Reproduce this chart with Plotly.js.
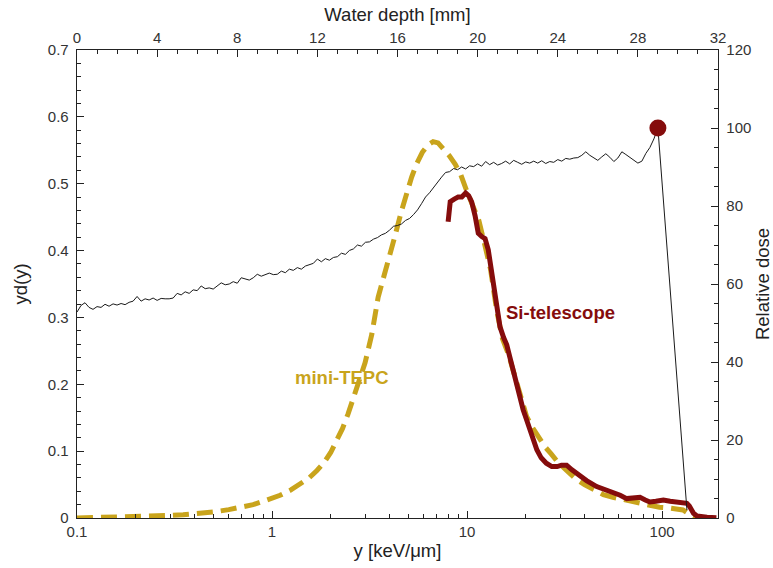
<!DOCTYPE html>
<html>
<head>
<meta charset="utf-8">
<script src="https://cdn.plot.ly/plotly-3.0.1.min.js"></script>
<style>html,body{margin:0;padding:0;background:#fff;}#chart{width:773px;height:568px;}</style>
</head>
<body>
<div id="chart"></div>
<script>
// mini-TEPC: lineal energy y [keV/um] vs y·d(y)
const tepcY = [0.1,0.13,0.17,0.2,0.25,0.3,0.35,0.4,0.5,0.6,0.7,0.8,0.9,1.0,1.1,1.25,1.4,1.55,1.7,1.85,2.0,2.15,2.3,2.45,2.6,2.8,3.0,3.25,3.5,3.75,4.0,4.3,4.6,4.9,5.2,5.5,5.9,6.3,6.7,7.1,7.6,8.1,8.7,9.3,10.0,10.7,11.5,12.3,13.2,14.2,15.2,16.3,17.5,18.8,20.2,21.7,23.3,25,27,29.5,32.5,36,40,45,50,56,63,70,78,87,97,108,118,128,136,143,150];
const tepcYd = [0.000,0.0005,0.001,0.0015,0.0025,0.0038,0.005,0.0062,0.009,0.0125,0.016,0.020,0.025,0.029,0.034,0.042,0.051,0.060,0.071,0.083,0.098,0.116,0.134,0.155,0.176,0.204,0.232,0.275,0.330,0.362,0.390,0.425,0.458,0.486,0.510,0.529,0.547,0.558,0.563,0.561,0.552,0.542,0.529,0.513,0.488,0.466,0.445,0.410,0.372,0.310,0.268,0.245,0.215,0.183,0.152,0.135,0.120,0.107,0.096,0.082,0.071,0.059,0.050,0.041,0.035,0.031,0.028,0.025,0.021,0.018,0.016,0.015,0.014,0.012,0.007,0.002,0.000];

// Si-telescope
const siY = [8.0,8.1,8.2,8.6,9.0,9.4,9.84,10.2,10.56,11.0,11.42,11.9,12.37,12.85,13.64,14.2,14.76,15.4,15.98,16.6,17.27,18.0,18.7,19.4,20.2,21.5,22.8,24.0,25.5,27.2,29.0,30.5,32.4,34.5,37.9,41.0,46.2,51,56.2,61,65.9,71,77.1,82,86.7,93,101.6,110,117,123.6,130,134,138,145,151,157,170,190];
const siYd = [0.443,0.458,0.473,0.477,0.480,0.480,0.486,0.482,0.473,0.452,0.426,0.421,0.418,0.401,0.351,0.318,0.286,0.270,0.259,0.240,0.221,0.198,0.176,0.162,0.147,0.124,0.102,0.090,0.082,0.077,0.077,0.079,0.079,0.072,0.062,0.056,0.047,0.043,0.039,0.034,0.029,0.030,0.031,0.027,0.024,0.025,0.027,0.025,0.024,0.024,0.023,0.022,0.018,0.007,0.003,0.002,0.001,0.0005];

// Depth-dose curve: water depth [mm] vs relative dose
const depth = [0.0,0.2,0.4,0.6,0.8,1.0,1.2,1.4,1.6,1.8,2.0,2.2,2.4,2.6,2.8,3.0,3.2,3.4,3.6,3.8,4.0,4.2,4.4,4.6,4.8,5.0,5.2,5.4,5.6,5.8,6.0,6.2,6.4,6.6,6.8,7.0,7.2,7.4,7.6,7.8,8.0,8.2,8.4,8.6,8.8,9.0,9.2,9.4,9.6,9.8,10.0,10.2,10.4,10.6,10.8,11.0,11.2,11.4,11.6,11.8,12.0,12.2,12.4,12.6,12.8,13.0,13.2,13.4,13.6,13.8,14.0,14.2,14.4,14.6,14.8,15.0,15.2,15.4,15.6,15.8,16.0,16.2,16.4,16.6,16.8,17.0,17.2,17.4,17.6,17.8,18.0,18.2,18.4,18.6,18.8,19.0,19.2,19.4,19.6,19.8,20.0,20.2,20.4,20.6,20.8,21.0,21.2,21.4,21.6,21.8,22.0,22.2,22.4,22.6,22.8,23.0,23.2,23.4,23.6,23.8,24.0,24.2,24.4,24.6,24.8,25.0,25.2,25.4,25.6,25.8,26.0,26.2,26.4,26.6,26.8,27.0,27.2,27.4,27.6,27.8,28.0,28.2,28.4,28.6,28.8,29.0,30.45];
const dose = [52.8,54.5,55.2,54.0,53.5,54.2,54.0,54.8,54.3,54.9,54.6,55.0,54.7,55.3,55.6,56.8,55.6,56.2,55.9,56.4,55.8,56.3,56.2,56.2,56.4,57.6,57.2,58.0,57.6,58.5,58.3,59.5,58.8,59.0,58.7,59.6,60.3,59.8,60.0,60.6,60.2,61.6,61.2,61.0,61.6,62.5,62.0,62.3,62.8,62.4,62.5,63.3,62.9,63.8,63.5,64.2,63.8,64.6,64.9,65.3,66.4,65.7,66.5,66.1,66.8,67.0,67.9,67.6,68.6,69.0,70.0,69.7,70.7,70.8,71.5,71.9,72.6,73.0,73.8,74.8,75.0,75.4,76.3,76.8,77.8,79.0,80.6,82.3,83.4,84.8,86.2,87.4,88.6,88.8,89.6,89.3,90.0,89.5,90.3,90.1,90.8,90.2,91.4,90.6,91.2,90.5,90.9,91.5,90.8,91.7,91.2,90.7,91.3,91.0,91.5,91.0,91.6,90.9,91.4,91.2,91.9,91.5,92.2,92.0,92.3,92.4,93.0,93.9,93.0,92.4,91.7,92.6,93.4,92.5,91.4,92.3,93.9,93.2,92.4,91.8,91.0,91.5,93.5,95.0,97.2,100.0,2.0];

// Peak marker
const peakDepth = [29.0];
const peakDose = [100.0];

// Tick labels
const xTickVals = [0.1,1,10,100];
const xTickText = ['0.1','1','10','100'];
const xMinorVals = [0.2,0.3,0.4,0.5,0.6,0.7,0.8,0.9,2,3,4,5,6,7,8,9,20,30,40,50,60,70,80,90];

const GOLD = '#C9A41C';
const RED = '#850C0C';
const FONT = 'Liberation Sans, Arial, Helvetica, sans-serif';

const traces = [
  {x: depth, y: dose, xaxis:'x2', yaxis:'y2', mode:'lines', line:{color:'#1a1a1a', width:1}, hoverinfo:'skip'},
  {x: tepcY, y: tepcYd, xaxis:'x', yaxis:'y', mode:'lines', line:{color:GOLD, width:5, dash:'16px,8px'}},
  {x: siY, y: siYd, xaxis:'x', yaxis:'y', mode:'lines', line:{color:RED, width:5}},
  {x: peakDepth, y: peakDose, xaxis:'x2', yaxis:'y2', mode:'markers', marker:{color:RED, size:17}}
];

const tickCommon = {ticks:'inside', tickcolor:'#222', tickwidth:1, ticklen:7, showline:true, linecolor:'#222', linewidth:1.3, showgrid:false, zeroline:false, tickfont:{size:15, color:'#333'}};
const minorCommon = {ticks:'inside', ticklen:4, tickcolor:'#222', tickwidth:1, showgrid:false};
const TITLEFONT = {size:18.5, color:'#222'};

const layout = {
  width:773, height:568,
  margin:{l:77, r:55, t:50, b:50, pad:0},
  paper_bgcolor:'#fff', plot_bgcolor:'#fff',
  showlegend:false,
  font:{family:FONT, size:15, color:'#333'},
  xaxis: Object.assign({}, tickCommon, {
    type:'log', range:[-1, Math.log10(193.6)],
    tickmode:'array', tickvals:xTickVals, ticktext:xTickText,
    minor: Object.assign({}, minorCommon, {tickmode:'array', tickvals:xMinorVals}),
    title:{text:'y [keV/μm]', font:TITLEFONT, standoff:4}
  }),
  xaxis2: Object.assign({}, tickCommon, {
    overlaying:'x', side:'top', range:[0,32], tick0:0, dtick:4,
    minor: Object.assign({}, minorCommon, {dtick:1}),
    title:{text:'Water depth [mm]', font:TITLEFONT, standoff:2}
  }),
  yaxis: Object.assign({}, tickCommon, {
    range:[0,0.7], tick0:0, dtick:0.1, ticklabelstandoff:4,
    minor: Object.assign({}, minorCommon, {dtick:0.02}),
    title:{text:'yd(y)', font:TITLEFONT, standoff:15}
  }),
  yaxis2: Object.assign({}, tickCommon, {
    overlaying:'y', side:'right', range:[0,120], tick0:0, dtick:20, ticklabelstandoff:4,
    minor: Object.assign({}, minorCommon, {dtick:5}),
    title:{text:'Relative dose', font:TITLEFONT, standoff:5}
  }),
  annotations:[
    {xref:'paper', yref:'paper', x:0.413, y:0.301, xanchor:'center', yanchor:'middle', text:'<b>mini-TEPC</b>', showarrow:false, font:{size:18.5, color:GOLD, family:FONT}},
    {xref:'paper', yref:'paper', x:0.755, y:0.440, xanchor:'center', yanchor:'middle', text:'<b>Si-telescope</b>', showarrow:false, font:{size:18.5, color:RED, family:FONT}}
  ]
};

Plotly.newPlot('chart', traces, layout, {displayModeBar:false, staticPlot:true});
</script>
</body>
</html>
